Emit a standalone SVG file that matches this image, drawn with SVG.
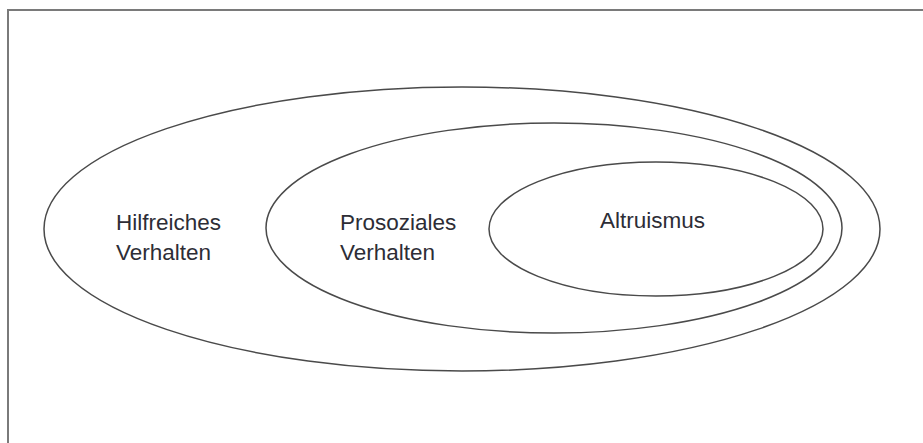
<svg xmlns="http://www.w3.org/2000/svg" width="923" height="443" viewBox="0 0 923 443">
  <style>
    .frame { fill: none; stroke: #7a7a7a; stroke-width: 2; }
    .set { fill: none; stroke: #4a4a4a; stroke-width: 1.5; }
    .label { font-family: "Liberation Sans", Arial, sans-serif; font-size: 22.5px; fill: #2d2d36; }
  </style>
  <rect x="0" y="0" width="923" height="443" fill="#ffffff"/>
  <!-- outer frame, cut by the canvas at right and bottom -->
  <rect class="frame" x="8" y="10" width="930" height="450"/>

  <g id="hilfreiches-verhalten">
    <ellipse class="set" cx="462" cy="229" rx="418" ry="142"/>
    <text class="label" x="116" y="230">Hilfreiches</text>
    <text class="label" x="116" y="260">Verhalten</text>
  </g>

  <g id="prosoziales-verhalten">
    <ellipse class="set" cx="554" cy="228" rx="288" ry="105"/>
    <text class="label" x="340" y="230">Prosoziales</text>
    <text class="label" x="340" y="260">Verhalten</text>
  </g>

  <g id="altruismus">
    <ellipse class="set" cx="656" cy="229" rx="167" ry="67"/>
    <text class="label" x="600" y="228">Altruismus</text>
  </g>

  <g id="connectors"/>
</svg>
